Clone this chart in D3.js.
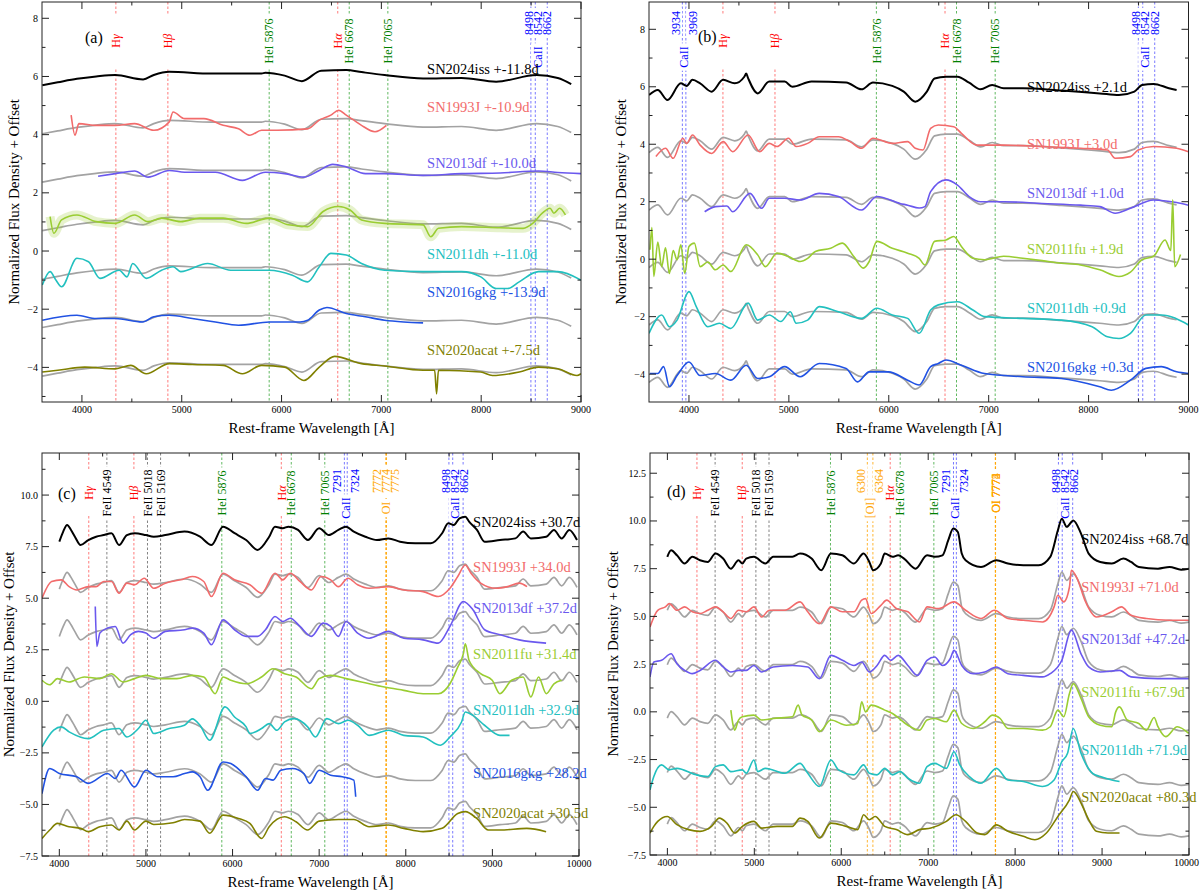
<!DOCTYPE html>
<html><head><meta charset="utf-8">
<script src="https://cdn.jsdelivr.net/npm/d3@7"></script>
<style>
body{margin:0;background:#fff}
svg{display:block}
text{font-family:"Liberation Serif","Times New Roman",serif}
</style>
</head><body>
<svg id="chart" width="1200" height="891"></svg>
<script>
// ---------------- DATA ----------------
const snNames = ['SN2024iss','SN1993J','SN2013df','SN2011fu','SN2011dh','SN2016gkg','SN2020acat'];

// Panel (a)
const phasesA = ['+-11.8d','+-10.9d','+-10.0d',null,'+-11.0d','+-13.9d','+-7.5d'];
const labelYA = [6.25,4.97,3.03,null,-0.10,-1.42,-3.41];
const grayOffA = [null,-1.67,-3.33,-5.0,-6.67,-8.33,-10.0];
const aISS = [[3603,5.70],[3758,5.80],[3950,5.92],[4143,6.0],[4335,6.05],[4613,5.9],[4720,6.05],[4875,6.16],[5299,6.1],[5800,6.1],[5838,6.13],[6031,6.03],[6204,5.84],[6397,6.2],[6648,6.22],[6801,6.15],[7032,6.05],[7418,5.93],[7803,5.95],[8150,5.82],[8555,6.05],[8767,5.95],[8902,5.74]];
const a93J = [[3892,4.67],[3931,3.98],[3969,4.38],[4143,4.32],[4335,4.32],[4528,4.38],[4721,4.15],[4875,4.44],[4913,4.78],[5029,4.55],[5222,4.55],[5415,4.32],[5569,4.2],[5684,3.98],[5800,4.15],[5954,4.15],[6262,4.2],[6378,4.5],[6494,4.67],[6571,4.84],[6648,4.67],[6725,4.5],[6801,4.32],[6936,4.1],[7051,4.32]];
const a13df = [[4162,2.57],[4335,2.66],[4528,2.75],[4663,2.54],[4875,2.77],[5029,2.71],[5337,2.71],[5607,2.43],[5838,2.71],[6031,2.66],[6224,2.54],[6378,2.77],[6513,2.98],[6648,2.89],[6840,2.66],[7032,2.66],[7418,2.6],[7803,2.66],[8189,2.68],[8574,2.75],[8767,2.7],[9000,2.66]];
const a11fu = [[3681,1.18],[3719,0.61],[3796,1.07],[3950,1.24],[4143,1.01],[4335,0.95],[4528,1.24],[4663,1.01],[4798,1.13],[4990,1.01],[5183,1.13],[5415,1.13],[5646,0.95],[5877,1.13],[6070,0.9],[6262,0.84],[6416,1.36],[6571,1.53],[6686,1.41],[6801,1.07],[7032,0.95],[7418,0.9],[7495,0.49],[7572,0.78],[7803,0.84],[8189,0.8],[8420,0.78],[8516,0.95],[8612,1.3],[8690,1.47],[8728,1.3],[8786,1.47],[8844,1.24]];
const a11dh = [[3603,-1.17],[3681,-0.71],[3739,-1.0],[3796,-1.23],[3950,-0.25],[4066,-0.37],[4181,-0.94],[4374,-0.66],[4451,-0.89],[4509,-0.43],[4644,-0.94],[4798,-0.66],[4913,-0.54],[4990,-0.71],[5260,-0.43],[5491,-0.66],[5877,-0.66],[6108,-0.83],[6262,-1.06],[6378,-0.54],[6494,-0.08],[6648,-0.14],[6801,-0.43],[7032,-0.66],[7418,-0.71],[7803,-0.71],[7996,-0.89],[8150,-1.29],[8266,-1.29],[8381,-1.06],[8574,-0.71],[8767,-0.71],[9000,-1.0]];
const a16gkg = [[3603,-2.38],[3950,-2.21],[4143,-2.32],[4335,-2.32],[4605,-2.44],[4721,-2.26],[4875,-2.21],[5106,-2.32],[5337,-2.44],[5569,-2.55],[5877,-2.44],[6185,-2.44],[6262,-2.38],[6378,-2.03],[6455,-1.94],[6648,-2.15],[6840,-2.26],[7032,-2.38],[7225,-2.44],[7418,-2.47]];
const a20acat = [[3603,-4.16],[3758,-4.1],[4027,-3.99],[4335,-4.05],[4489,-3.93],[4644,-4.22],[4875,-3.87],[5106,-3.9],[5415,-3.93],[5607,-4.22],[5800,-3.93],[6031,-3.99],[6224,-4.45],[6378,-3.99],[6532,-3.62],[6801,-3.87],[7032,-3.95],[7418,-4.1],[7534,-4.1],[7553,-4.91],[7572,-4.1],[7996,-4.16],[8112,-4.28],[8381,-4.16],[8574,-3.99],[8767,-4.05],[8960,-4.28],[9000,-4.22]];

// Panel (b)
const phasesB = ['+2.1d','+3.0d','+1.0d','+1.9d','+0.9d','+0.3d'];
const labelYB = [5.98,4.0,2.29,0.37,-1.71,-3.75];
const grayOffB = [null,-2,-4,-6,-8,-10];
const bISS = [[3600,5.71],[3688,5.89],[3785,5.54],[3919,6.12],[3977,6.03],[4035,6.24],[4112,6.12],[4227,5.83],[4342,6.24],[4458,6.12],[4554,6.35],[4573,6.46],[4592,6.3],[4688,5.77],[4804,6.18],[4958,6.18],[5035,6.0],[5227,6.18],[5573,6.15],[5727,5.91],[5842,6.15],[6035,6.03],[6150,5.83],[6265,5.48],[6381,5.83],[6458,6.29],[6573,6.35],[6688,6.35],[6804,6.14],[6919,5.91],[7035,6.06],[7150,5.95],[7342,5.95],[7727,5.87],[8112,5.77],[8304,5.71],[8458,5.83],[8535,6.06],[8650,6.1],[8804,5.95],[8881,5.89]];
const b93J = [[3669,3.57],[3765,3.86],[3842,3.51],[3938,4.21],[3977,4.03],[4035,4.32],[4112,3.97],[4227,3.68],[4342,4.09],[4438,3.74],[4592,4.32],[4708,3.74],[4804,4.03],[4881,3.92],[4996,4.21],[5073,3.92],[5188,4.03],[5304,4.26],[5496,4.26],[5612,4.09],[5727,3.86],[5842,4.21],[6035,4.03],[6189,4.09],[6265,3.86],[6342,3.8],[6419,4.55],[6496,4.67],[6650,4.61],[6727,4.38],[6881,3.97],[7150,3.97],[7535,3.92],[7920,3.86],[8189,3.8],[8266,3.51],[8419,3.57],[8496,3.8],[8650,3.92],[8881,3.86],[9000,3.74]];
const b13df = [[4157,1.65],[4265,1.83],[4380,1.85],[4438,1.65],[4611,2.29],[4727,1.77],[4804,2.12],[4958,2.12],[5112,2.06],[5304,2.29],[5496,2.18],[5727,1.71],[5881,2.18],[6112,1.94],[6189,1.88],[6304,1.78],[6362,1.83],[6419,2.35],[6573,2.76],[6688,2.58],[6804,2.18],[6919,2.0],[7150,2.0],[7535,1.94],[7920,1.88],[8112,1.83],[8266,1.6],[8419,1.77],[8650,2.06],[8881,1.97],[9000,1.88]];
const b11fu = [[3610,0.33],[3629,1.1],[3648,-0.6],[3688,0.6],[3727,-0.26],[3765,0.4],[3804,-0.5],[3842,0.3],[3881,-0.02],[3919,0.5],[3958,-0.5],[4000,0.44],[4054,0.56],[4112,-0.26],[4188,-0.1],[4265,-0.37],[4342,-0.2],[4419,-0.43],[4573,0.5],[4688,0.15],[4765,-0.26],[4881,0.21],[4996,0.09],[5112,-0.08],[5188,0.03],[5265,0.27],[5419,0.38],[5535,0.56],[5650,0.09],[5746,-0.31],[5804,-0.08],[5881,0.62],[6035,0.38],[6189,0.21],[6304,0.03],[6362,-0.2],[6458,0.62],[6573,0.67],[6650,0.79],[6727,0.44],[6842,0.03],[6958,-0.02],[7150,0.1],[7342,0.03],[7535,-0.05],[7727,-0.14],[7920,-0.2],[8112,-0.37],[8304,-0.6],[8419,-0.45],[8535,-0.02],[8650,0.1],[8765,0.67],[8823,0.3],[8842,2.07],[8862,-0.26],[8920,0.16]];
const b11dh = [[3600,-2.58],[3727,-1.94],[3804,-2.35],[3881,-2.12],[4000,-1.13],[4073,-1.65],[4188,-2.35],[4304,-2.23],[4419,-2.41],[4592,-1.53],[4688,-2.12],[4804,-1.94],[4919,-2.17],[5015,-1.83],[5073,-2.23],[5188,-2.12],[5304,-1.65],[5496,-1.83],[5727,-2.06],[5881,-1.71],[6035,-1.94],[6189,-2.06],[6304,-2.58],[6419,-1.77],[6496,-1.59],[6688,-1.48],[6842,-1.77],[6958,-2.0],[7342,-2.06],[7727,-2.12],[8035,-2.35],[8189,-2.7],[8304,-2.76],[8419,-2.58],[8573,-1.94],[8727,-1.94],[9000,-2.29]];
const b16gkg = [[3610,-3.98],[3688,-3.98],[3746,-3.74],[3804,-4.44],[3881,-4.05],[4000,-3.58],[4112,-4.05],[4265,-3.98],[4419,-4.21],[4573,-3.69],[4688,-4.15],[4804,-4.09],[4958,-3.74],[5112,-4.09],[5304,-3.63],[5573,-3.8],[5688,-4.27],[5804,-3.92],[5996,-3.92],[6189,-4.21],[6304,-4.38],[6419,-3.74],[6496,-3.63],[6573,-3.51],[6727,-3.69],[6958,-3.98],[7342,-4.09],[7727,-4.15],[8112,-4.44],[8227,-4.56],[8419,-4.21],[8573,-3.8],[8727,-3.74],[8881,-3.92],[9000,-3.98]];

// Panel (c)
const phasesC = ['+30.7d','+34.0d','+37.2d','+31.4d','+32.9d','+28.2d','+30.5d'];
const labelYC = [8.71,6.52,4.51,2.29,-0.43,-3.49,-5.4];
const grayOffC = [null,-2.3,-4.6,-6.9,-9.2,-11.5,-13.8];
const cISS = [[4000,7.74],[4045,8.23],[4090,8.55],[4135,8.31],[4180,7.98],[4245,7.58],[4335,7.82],[4425,7.98],[4513,8.06],[4602,8.15],[4690,7.58],[4780,8.06],[4870,8.15],[5000,8.06],[5090,7.98],[5225,8.06],[5445,8.23],[5625,7.98],[5756,7.58],[5890,8.47],[6023,8.15],[6157,7.82],[6290,7.34],[6423,7.98],[6490,8.47],[6580,8.39],[6645,8.47],[6756,8.31],[6870,7.82],[7000,8.39],[7111,8.06],[7222,8.31],[7310,8.47],[7400,8.23],[7533,7.98],[7667,7.82],[7800,7.9],[7933,7.74],[8110,7.66],[8290,7.66],[8420,8.15],[8490,8.63],[8555,8.55],[8620,8.87],[8687,8.95],[8731,8.71],[8822,8.31],[8910,7.74],[9088,7.82],[9266,7.9],[9355,8.23],[9444,7.9],[9622,7.98],[9711,8.31],[9800,7.9],[9888,8.31],[9977,7.82]];
const c93J = [[3800,5.0],[3911,5.81],[4022,5.89],[4113,5.56],[4202,5.4],[4335,5.56],[4424,5.56],[4513,5.81],[4602,5.81],[4690,5.24],[4780,5.73],[4870,5.65],[4980,5.97],[5090,5.48],[5224,5.73],[5400,5.89],[5535,6.05],[5668,5.81],[5756,5.08],[5890,6.21],[6023,5.89],[6200,5.65],[6335,5.24],[6490,6.21],[6580,5.89],[6667,6.21],[6778,5.81],[6910,5.4],[7022,6.05],[7133,5.89],[7222,5.56],[7333,5.97],[7444,5.65],[7577,5.48],[7800,5.56],[7977,5.4],[8200,5.32],[8375,5.08],[8510,5.48],[8600,6.05],[8687,6.61],[8753,6.21],[8864,5.73],[9042,5.48],[9175,5.56],[9310,5.73],[9400,5.56]];
const c13df = [[4415,4.6],[4433,2.66],[4468,3.31],[4557,3.55],[4646,3.63],[4735,2.82],[4824,3.23],[4913,3.39],[5000,3.31],[5090,3.06],[5224,3.39],[5445,3.47],[5535,3.55],[5668,3.31],[5756,2.74],[5890,3.95],[6023,3.47],[6157,3.15],[6290,3.15],[6380,3.47],[6490,4.11],[6580,3.87],[6667,4.03],[6778,3.63],[6910,3.15],[7045,3.79],[7133,3.63],[7222,3.15],[7310,3.87],[7444,3.31],[7577,3.06],[7800,3.39],[7977,3.06],[8200,2.98],[8375,2.82],[8510,3.63],[8665,4.84],[8775,4.44],[8910,3.47],[9088,3.23],[9310,2.98],[9620,2.82]];
const c11fu = [[3800,1.02],[3889,0.8],[3978,1.1],[4111,0.94],[4289,1.18],[4467,1.1],[4600,1.34],[4735,0.94],[4868,1.1],[5000,1.26],[5180,1.1],[5357,1.1],[5535,1.26],[5668,1.18],[5800,0.37],[5890,1.18],[5980,1.02],[6157,0.85],[6335,1.18],[6467,1.58],[6600,1.34],[6733,1.18],[6910,0.61],[7000,1.1],[7133,1.26],[7310,1.1],[7488,0.94],[7754,0.69],[7977,0.53],[8200,0.37],[8375,0.37],[8510,0.85],[8600,1.66],[8665,2.31],[8687,2.79],[8731,1.98],[8864,1.34],[8998,1.02],[9087,0.37],[9222,1.02],[9355,1.18],[9444,0.21],[9533,1.18],[9622,0.37],[9711,0.85],[9800,1.02]];
const c11dh = [[3800,-2.21],[3935,-1.4],[4024,-1.24],[4113,-1.48],[4335,-1.81],[4513,-1.4],[4690,-1.32],[4780,-1.73],[4913,-1.32],[5000,-0.92],[5090,-1.56],[5268,-1.32],[5445,-1.16],[5535,-0.85],[5624,-1.16],[5735,-1.89],[5913,-0.27],[6023,-0.76],[6157,-1.24],[6200,-1.56],[6335,-1.32],[6423,-1.08],[6512,-1.4],[6600,-1.0],[6711,-0.84],[6867,-1.24],[6956,-1.73],[7089,-0.84],[7222,-1.08],[7333,-0.92],[7444,-1.16],[7577,-1.65],[7800,-1.4],[7977,-1.65],[8200,-1.73],[8400,-2.13],[8510,-1.73],[8644,-1.0],[8687,-0.52],[8775,-0.68],[8909,-1.16],[9087,-1.65],[9198,-1.65]];
const c16gkg = [[3800,-4.48],[3889,-3.26],[4000,-3.5],[4202,-3.66],[4335,-3.98],[4557,-3.5],[4646,-3.74],[4713,-3.34],[4868,-4.15],[5000,-3.34],[5135,-3.66],[5313,-3.66],[5446,-3.5],[5535,-3.42],[5624,-3.66],[5713,-4.31],[5890,-2.94],[5980,-3.02],[6157,-3.66],[6290,-4.31],[6380,-3.74],[6468,-3.82],[6557,-3.34],[6690,-3.26],[6823,-3.5],[6890,-3.98],[7000,-3.34],[7133,-3.58],[7266,-3.66],[7400,-3.82],[7422,-4.63]];
const c20acat = [[3800,-6.65],[3889,-6.24],[3978,-5.92],[4111,-6.08],[4246,-6.16],[4335,-6.32],[4468,-6.08],[4601,-6.0],[4690,-6.24],[4780,-5.81],[4868,-6.24],[5000,-5.81],[5090,-5.97],[5313,-5.89],[5446,-5.73],[5624,-5.81],[5735,-6.4],[5890,-5.52],[6068,-5.68],[6200,-5.92],[6335,-6.65],[6423,-6.08],[6600,-5.6],[6733,-5.84],[6866,-6.24],[7000,-5.81],[7222,-5.73],[7400,-5.73],[7577,-6.08],[7800,-6.0],[7977,-6.16],[8200,-6.32],[8420,-6.16],[8600,-5.44],[8687,-5.35],[8820,-5.68],[8953,-6.24],[9087,-6.24],[9397,-6.16],[9620,-6.32]];

// Panel (d)
const phasesD = ['+68.7d','+71.0d','+47.2d','+67.9d','+71.9d',null,'+80.3d'];
const labelYD = [9.08,6.54,3.84,1.05,-1.98,null,-4.48];
const grayOffD = [null,-2.8,-5.65,-8.45,-11.3,null,-14.0];
const dISS = [[3999,8.12],[4043,8.46],[4110,8.2],[4198,7.77],[4287,8.12],[4375,7.94],[4464,7.85],[4553,8.29],[4641,8.03],[4730,7.5],[4818,7.94],[4862,7.77],[4907,8.03],[4995,8.12],[5128,7.77],[5217,8.12],[5438,8.12],[5526,8.29],[5659,8.03],[5770,7.42],[5881,8.29],[6013,8.2],[6146,7.77],[6257,8.29],[6323,7.85],[6367,7.42],[6456,7.77],[6500,8.29],[6589,8.12],[6655,8.2],[6722,8.03],[6854,7.5],[6987,8.2],[7076,8.12],[7164,8.2],[7231,8.99],[7288,9.6],[7341,9.42],[7386,8.29],[7430,7.94],[7607,7.59],[7784,7.94],[7917,7.77],[8094,7.68],[8271,7.68],[8404,8.12],[8492,9.51],[8537,10.12],[8594,9.69],[8669,10.03],[8758,9.34],[8846,8.29],[8979,7.85],[9112,7.77],[9245,8.03],[9333,7.85],[9422,7.59],[9643,7.5],[9776,7.59],[9909,7.45],[10000,7.5]];
const d93J = [[3800,4.45],[3889,5.32],[3977,5.5],[4021,5.67],[4110,5.32],[4198,5.5],[4287,5.24],[4375,5.15],[4464,5.32],[4553,5.5],[4641,5.24],[4730,4.89],[4818,5.32],[4907,5.24],[4995,5.5],[5084,4.97],[5172,5.32],[5349,5.32],[5526,5.76],[5615,5.24],[5748,4.62],[5881,5.5],[6013,5.24],[6146,5.24],[6235,5.85],[6279,5.93],[6345,5.15],[6456,5.58],[6522,5.85],[6633,5.41],[6766,5.24],[6899,4.71],[6987,5.5],[7120,5.41],[7297,5.76],[7430,5.32],[7607,4.89],[7762,5.32],[7917,4.89],[8094,4.8],[8315,4.71],[8448,5.5],[8492,6.11],[8559,5.76],[8625,6.54],[8647,7.42],[8714,6.98],[8802,5.85],[8935,4.97],[9112,5.24],[9223,5.5],[9333,5.06],[9510,4.89],[9776,4.8],[9997,4.8]];
const d13df = [[3800,1.83],[3844,2.61],[3933,2.7],[4043,3.04],[4110,2.52],[4198,2.17],[4287,2.0],[4375,2.17],[4553,2.7],[4641,2.35],[4730,2.09],[4818,2.17],[4907,2.17],[4995,2.43],[5084,2.09],[5217,2.35],[5438,2.43],[5615,2.35],[5748,1.74],[5881,2.96],[6013,2.7],[6146,2.43],[6235,2.61],[6323,2.09],[6412,2.43],[6500,2.96],[6567,2.7],[6655,2.96],[6766,2.43],[6877,1.91],[6987,2.7],[7076,2.87],[7164,2.43],[7253,2.78],[7297,3.22],[7386,2.43],[7518,2.0],[7651,2.09],[7784,2.35],[7917,2.0],[8094,1.91],[8315,1.83],[8404,2.0],[8537,2.7],[8647,4.28],[8758,3.04],[8846,2.35],[8979,2.09],[9201,2.17],[9333,1.83],[9643,1.74],[9997,1.74]];
const d11fu = [[4730,0.09],[4752,-0.61],[4774,-0.96],[4818,-0.43],[4862,-0.26],[4995,-0.17],[5084,-0.43],[5217,-0.35],[5438,-0.26],[5504,0.35],[5549,-0.17],[5659,-0.43],[5748,-1.04],[5881,-0.43],[6058,-0.7],[6190,-0.61],[6235,0.52],[6279,0.0],[6345,0.35],[6500,0.09],[6589,-0.09],[6766,-0.7],[6899,-0.96],[6987,-0.43],[7076,-0.35],[7209,-0.52],[7297,0.09],[7386,-0.61],[7518,-0.87],[7651,-0.52],[7740,-0.17],[7828,-0.35],[7917,-0.87],[8094,-0.87],[8315,-0.96],[8404,-0.78],[8492,0.09],[8559,-0.26],[8625,0.96],[8669,1.48],[8758,0.7],[8846,-0.26],[8979,-0.7],[9112,-0.78],[9157,0.0],[9201,0.26],[9289,-0.43],[9422,-0.61],[9510,-0.96],[9599,-0.3],[9643,-0.78],[9732,-1.3],[9865,-0.78],[9997,-1.13]];
const d11dh = [[3800,-4.09],[3844,-3.39],[3933,-2.78],[4021,-3.04],[4110,-2.96],[4331,-3.3],[4464,-3.39],[4553,-2.87],[4641,-2.78],[4730,-3.13],[4862,-3.04],[4907,-3.22],[4995,-2.52],[5040,-3.13],[5128,-2.96],[5349,-3.22],[5526,-2.7],[5615,-3.22],[5748,-3.91],[5881,-2.52],[5969,-3.04],[6146,-3.3],[6257,-2.78],[6323,-3.22],[6412,-3.3],[6500,-2.96],[6589,-3.3],[6677,-3.13],[6766,-3.48],[6899,-3.74],[6987,-2.87],[7076,-2.7],[7209,-2.96],[7297,-2.09],[7363,-2.78],[7474,-3.39],[7607,-3.74],[7784,-2.96],[7917,-3.57],[8094,-3.65],[8315,-3.91],[8448,-3.57],[8537,-2.61],[8603,-2.17],[8669,-0.87],[8758,-2.17],[8891,-3.22],[8979,-3.39],[9112,-3.57],[9201,-3.65]];
const d20acat = [[3800,-6.35],[3844,-6.0],[3889,-5.74],[3999,-5.48],[4110,-5.91],[4243,-6.17],[4375,-6.26],[4508,-6.0],[4597,-5.57],[4685,-5.83],[4774,-6.35],[4862,-6.0],[4995,-5.74],[5084,-6.09],[5261,-6.0],[5438,-6.0],[5526,-5.57],[5615,-5.74],[5748,-6.61],[5881,-5.83],[6058,-6.0],[6190,-6.17],[6257,-5.39],[6323,-5.65],[6390,-5.48],[6500,-6.0],[6633,-6.17],[6766,-6.43],[6899,-6.17],[7032,-6.09],[7209,-5.74],[7319,-5.39],[7430,-5.74],[7563,-6.35],[7651,-6.43],[7784,-5.92],[7917,-6.26],[8094,-6.52],[8227,-6.7],[8360,-6.35],[8492,-5.48],[8625,-4.61],[8669,-4.17],[8758,-4.78],[8846,-5.65],[8935,-6.26],[9068,-6.35],[9201,-6.35]];

// Line identifications: [label, wavelengths, species, mode]
const linesAB_H = [['Hγ',[4340],'H'],['Hβ',[4861],'H'],['HeI 5876',[5876],'He'],['Hα',[6563],'H'],['HeI 6678',[6678],'He'],['HeI 7065',[7065],'He']];
const linesA = linesAB_H.concat([['CaII',[8498,8542,8662],'Ca']]);
const linesB = [['CaII',[3934,3969],'Ca']].concat(linesAB_H).concat([['CaII',[8498,8542,8662],'Ca']]);
const linesC = [['Hγ',[4340],'H'],['FeII 4549',[4549],'Fe'],['Hβ',[4861],'H'],['FeII 5018',[5018],'Fe'],['FeII 5169',[5169],'Fe'],['HeI 5876',[5876],'He'],['Hα',[6563],'H'],['HeI 6678',[6678],'He'],['HeI 7065',[7065],'He'],['CaII',[7291,7324],'Ca'],['OI',[7772,7774,7775],'O'],['CaII',[8498,8542,8662],'Ca']];
const linesD = [['Hγ',[4340],'H'],['FeII 4549',[4549],'Fe'],['Hβ',[4861],'H'],['FeII 5018',[5018],'Fe'],['FeII 5169',[5169],'Fe'],['HeI 5876',[5876],'He'],['[OI]',[6300,6364],'O'],['Hα',[6563],'H'],['HeI 6678',[6678],'He'],['HeI 7065',[7065],'He'],['CaII',[7291,7324],'Ca'],['OI',[7772,7774,7775],'O','stack'],['CaII',[8498,8542,8662],'Ca']];

// ---------------- STYLES ----------------
const snColors = ['#000000','#f26b6b','#6a58ee','#9acd32','#22c0bf','#2152e3','#808000'];
const grayColor = '#a3a3a3';
const species = {
  H:{line:'#ff5a5a',text:'#ff0000'}, He:{line:'#3aa83a',text:'#008000'},
  Ca:{line:'#5a5aff',text:'#0000ff'}, Fe:{line:'#666666',text:'#000000'},
  O:{line:'#ffa500',text:'#ffa500'}
};

const panels = [
  {letter:'(a)', data:[aISS,a93J,a13df,a11fu,a11dh,a16gkg,a20acat], phases:phasesA, labY:labelYA, gOff:grayOffA, labWl:7458, lines:linesA,
   xd:[3600,9000], xr:[42,581], yd:[-5.19,8.56], yr:[402,2], yMaj:2, yMin:1, fmt:d=>(d<0?'\u2212':'')+Math.abs(d),
   letterXY:[85,43], rowY:39, numY:21, nameY:55, rowBox:54, sep:9, yTitleX:14, band:3},
  {letter:'(b)', data:[bISS,b93J,b13df,b11fu,b11dh,b16gkg], phases:phasesB, labY:labelYB, gOff:grayOffB, labWl:7384, lines:linesB,
   xd:[3600,9000], xr:[649,1188.5], yd:[-4.97,8.95], yr:[402,2], yMaj:2, yMin:1, fmt:d=>(d<0?'\u2212':'')+Math.abs(d),
   letterXY:[698,42], rowY:39, numY:21, nameY:55, rowBox:54, sep:8.5, yTitleX:621, band:-1},
  {letter:'(c)', data:[cISS,c93J,c13df,c11fu,c11dh,c16gkg,c20acat], phases:phasesC, labY:labelYC, gOff:grayOffC, labWl:8777, lines:linesC,
   xd:[3800,10000], xr:[42,579], yd:[-7.5,12.04], yr:[856,453], yMaj:2.5, yMin:1.25, fmt:d=>(d<0?'\u2212':'')+Math.abs(d).toFixed(1),
   letterXY:[58,499], rowY:40, numY:28, nameY:55, rowBox:44, sep:9, yTitleX:9, band:-1},
  {letter:'(d)', data:[dISS,d93J,d13df,d11fu,d11dh,null,d20acat], phases:phasesD, labY:labelYD, gOff:grayOffD, labWl:8760, lines:linesD,
   xd:[3800,10000], xr:[650,1189], yd:[-7.5,13.56], yr:[855,453], yMaj:2.5, yMin:1.25, fmt:d=>(d<0?'\u2212':'')+Math.abs(d).toFixed(1),
   letterXY:[667,497], rowY:40, numY:28, nameY:55, rowBox:44, sep:9, yTitleX:613, band:-1}
];

const svg = d3.select('#chart');
svg.append('rect').attr('width',1200).attr('height',891).attr('fill','#fff');

function spread(xs, sep){
  const p = xs.slice();
  for(let it=0; it<50; it++){
    for(let i=1;i<p.length;i++){
      const gap = p[i]-p[i-1];
      if(gap < sep){ const d=(sep-gap)/2; p[i-1]-=d; p[i]+=d; }
    }
  }
  return p;
}

function addLabelText(g, t, color){
  const el = g.append('text').attr('text-anchor','middle').attr('dy','0.35em')
    .attr('font-size',12).attr('fill',color);
  const m = t.match(/^H([αβγ])$/);
  if(m){ el.append('tspan').text('H'); el.append('tspan').attr('font-style','italic').text(m[1]); }
  else el.text(t);
  return el;
}

panels.forEach((P, pi) => {
  const x = d3.scaleLinear().domain(P.xd).range(P.xr);
  const y = d3.scaleLinear().domain(P.yd).range(P.yr);
  const top = P.yr[1], bot = P.yr[0], left = P.xr[0], right = P.xr[1];
  const g = svg.append('g');
  const clipId = 'clip'+pi;
  g.append('clipPath').attr('id',clipId).append('rect')
    .attr('x',left).attr('y',top).attr('width',right-left).attr('height',bot-top);

  // identification lines
  const mk = g.append('g');
  P.lines.forEach(L => {
    const st = species[L[2]];
    L[1].forEach(w => {
      mk.append('line').attr('x1',x(w)).attr('x2',x(w)).attr('y1',top).attr('y2',bot)
        .attr('stroke',st.line).attr('stroke-width',1).attr('stroke-dasharray','2.5,2').attr('opacity',0.8);
    });
  });
  // labels
  const boxG = g.append('g'), txtG = g.append('g');
  const items = [];
  P.lines.forEach(L => {
    const st = species[L[2]], wls = L[1];
    if(wls.length === 1){
      items.push({x:x(wls[0]), y:top+P.rowY, t:L[0], c:st.text, minBox:P.rowBox});
    } else if(L[3] === 'stack'){
      wls.forEach(w => items.push({x:x(w), y:top+P.rowY, t:L[0]+' '+w, c:st.text, minBox:P.rowBox}));
    } else {
      const xs = wls.map(w=>x(w)); const mean = d3.mean(xs);
      let pos, nx;
      if(xs.length === 2){ pos=[mean-P.sep, mean+P.sep]; nx=mean; }
      else { pos = spread(xs, P.sep); nx = pos[1]; }
      wls.forEach((w,i) => items.push({x:pos[i], y:top+P.numY, t:String(w), c:st.text, minBox:0}));
      items.push({x:nx, y:top+P.nameY, t:L[0], c:st.text, minBox:0});
    }
  });
  items.forEach(it => {
    const tg = txtG.append('g').attr('transform',`translate(${it.x},${it.y}) rotate(-90)`);
    const el = addLabelText(tg, it.t, it.c);
    const len = el.node().getComputedTextLength();
    const h = Math.max(len+6, it.minBox);
    boxG.append('rect').attr('x',it.x-6.5).attr('y',it.y-h/2).attr('width',13).attr('height',h).attr('fill','#fff');
  });

  // spectra
  const sp = g.append('g').attr('clip-path',`url(#${clipId})`);
  const line = d3.line().x(d=>x(d[0])).y(d=>y(d[1])).curve(d3.curveMonotoneX);
  const iss = P.data[0];
  P.gOff.forEach((off,i) => {
    if(off === null || !P.data[i]) return;
    sp.append('path').attr('d', line(iss.map(d=>[d[0], d[1]+off])))
      .attr('fill','none').attr('stroke',grayColor).attr('stroke-width',1.7).attr('stroke-linejoin','round');
  });
  P.data.forEach((arr,i) => {
    if(!arr) return;
    if(i === P.band){
      sp.append('path').attr('d', line(arr)).attr('fill','none').attr('stroke',snColors[i])
        .attr('stroke-width',9).attr('opacity',0.25).attr('stroke-linejoin','round');
    }
    sp.append('path').attr('d', line(arr)).attr('fill','none').attr('stroke',snColors[i])
      .attr('stroke-width', i===0 ? 2 : 1.6).attr('stroke-linejoin','round');
  });
  // SN labels
  P.data.forEach((arr,i) => {
    if(!arr || P.phases[i] === null || P.phases[i] === undefined) return;
    g.append('text').attr('x',x(P.labWl)).attr('y',y(P.labY[i])).attr('dy','0.35em')
      .attr('font-size',14.5).attr('fill',snColors[i]).text(snNames[i]+' '+P.phases[i]);
  });

  // frame & ticks
  const ax = g.append('g').attr('stroke','#222').attr('stroke-width',1);
  ax.append('rect').attr('x',left).attr('y',top).attr('width',right-left).attr('height',bot-top).attr('fill','none');
  const xMaj = d3.range(Math.ceil(P.xd[0]/1000)*1000, P.xd[1]+1, 1000);
  const xMin = d3.range(Math.ceil(P.xd[0]/500)*500, P.xd[1]+1, 500).filter(v=>v%1000!==0);
  const eps = 1e-6;
  const yMaj = d3.range(Math.ceil(P.yd[0]/P.yMaj-eps)*P.yMaj, P.yd[1]+eps, P.yMaj);
  const yMin = d3.range(Math.ceil(P.yd[0]/P.yMin-eps)*P.yMin, P.yd[1]+eps, P.yMin)
      .filter(v=>Math.abs(v/P.yMaj - Math.round(v/P.yMaj))>1e-6);
  xMaj.forEach(v=>{ const X=x(v);
    ax.append('line').attr('x1',X).attr('x2',X).attr('y1',bot).attr('y2',bot-7);
    ax.append('line').attr('x1',X).attr('x2',X).attr('y1',top).attr('y2',top+7);
    const t = g.append('text').attr('x',X).attr('y',bot+11).attr('text-anchor','middle').attr('font-size',10).text(v);
    const w = t.node().getComputedTextLength();
    if(X + w/2 > 1199) t.attr('text-anchor','end').attr('x',1199);
  });
  xMin.forEach(v=>{ const X=x(v);
    ax.append('line').attr('x1',X).attr('x2',X).attr('y1',bot).attr('y2',bot-3.5);
    ax.append('line').attr('x1',X).attr('x2',X).attr('y1',top).attr('y2',top+3.5);
  });
  yMaj.forEach(v=>{ const Y=y(v);
    ax.append('line').attr('x1',left).attr('x2',left+7).attr('y1',Y).attr('y2',Y);
    ax.append('line').attr('x1',right).attr('x2',right-7).attr('y1',Y).attr('y2',Y);
    g.append('text').attr('x',left-4).attr('y',Y).attr('dy','0.35em').attr('text-anchor','end').attr('font-size',10).text(P.fmt(v));
  });
  yMin.forEach(v=>{ const Y=y(v);
    ax.append('line').attr('x1',left).attr('x2',left+3.5).attr('y1',Y).attr('y2',Y);
    ax.append('line').attr('x1',right).attr('x2',right-3.5).attr('y1',Y).attr('y2',Y);
  });

  // titles
  g.append('text').attr('x',(left+right)/2).attr('y',bot+31).attr('text-anchor','middle').attr('font-size',15)
    .text('Rest-frame Wavelength [\u00C5]');
  g.append('text').attr('transform',`translate(${P.yTitleX},${(top+bot)/2}) rotate(-90)`).attr('dy','0.35em')
    .attr('text-anchor','middle').attr('font-size',15).text('Normalized Flux Density + Offset');
  g.append('text').attr('x',P.letterXY[0]).attr('y',P.letterXY[1]).attr('font-size',16).text(P.letter);
});
</script>
</body></html>
